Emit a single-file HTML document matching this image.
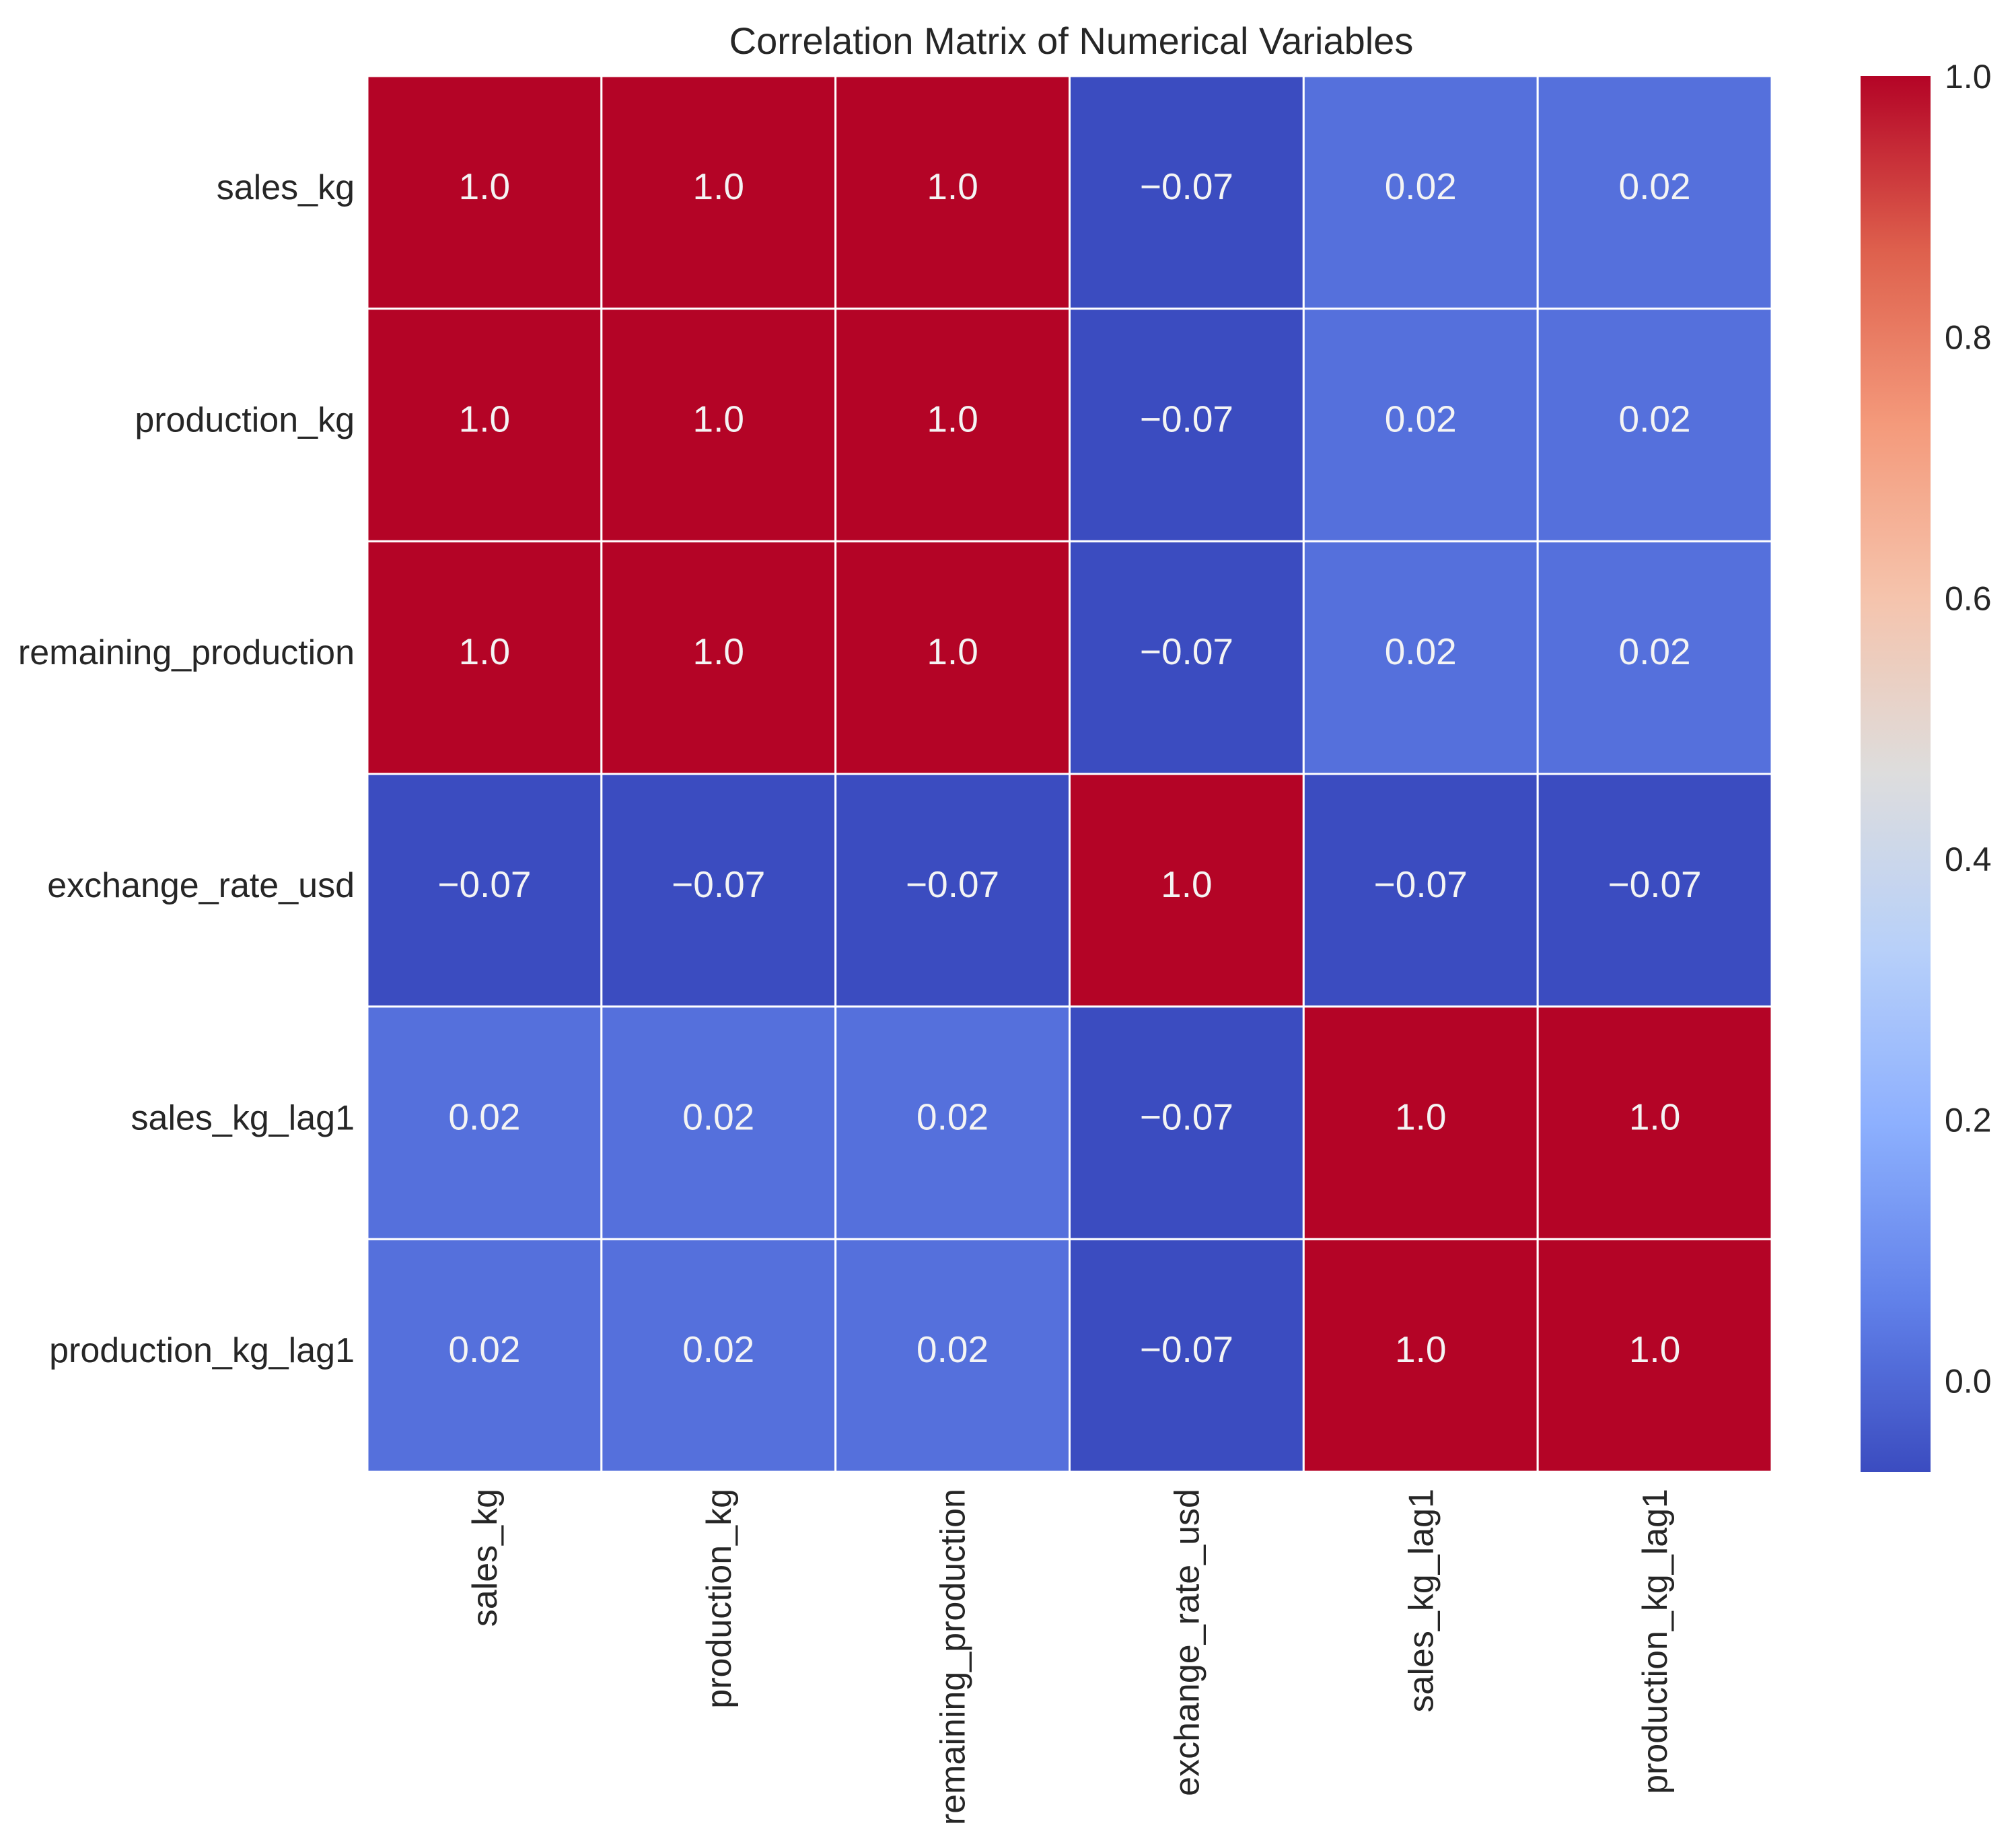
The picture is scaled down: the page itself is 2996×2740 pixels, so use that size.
<!DOCTYPE html>
<html><head><meta charset="utf-8"><style>
html,body{margin:0;padding:0;background:#fff;}
svg{display:block;font-family:"Liberation Sans",sans-serif;}
</style></head><body>
<svg id="chart" width="2996" height="2740" viewBox="0 0 2996 2740" xmlns="http://www.w3.org/2000/svg">
<defs>
<linearGradient id="cbgrad" x1="0" y1="1" x2="0" y2="0"></linearGradient>
</defs>
<text x="1592" y="80" font-size="56" fill="#262626" text-anchor="middle">Correlation Matrix of Numerical Variables</text>
<g id="cells"></g>
<g id="ylabels"></g>
<g id="xlabels"></g>
<g id="colorbar"></g>
</svg>
<script>
const variables = ["sales_kg","production_kg","remaining_production","exchange_rate_usd","sales_kg_lag1","production_kg_lag1"];
const row0 = [1.0, 1.0, 1.0, -0.07, 0.02, 0.02];
const row1 = [1.0, 1.0, 1.0, -0.07, 0.02, 0.02];
const row2 = [1.0, 1.0, 1.0, -0.07, 0.02, 0.02];
const row3 = [-0.07, -0.07, -0.07, 1.0, -0.07, -0.07];
const row4 = [0.02, 0.02, 0.02, -0.07, 1.0, 1.0];
const row5 = [0.02, 0.02, 0.02, -0.07, 1.0, 1.0];
const matrix = [row0,row1,row2,row3,row4,row5];
const colorbarTicks = [0.0, 0.2, 0.4, 0.6, 0.8, 1.0];
const vmin = -0.07, vmax = 1.0;

const NS = "http://www.w3.org/2000/svg";
const L = 546, R = 2633, T = 113, B = 2187;
const n = variables.length;
const cw = (R - L) / n, ch = (B - T) / n;
const xPos = i => L + i * cw;
const yPos = i => T + i * ch;
const stops = [[59,76,192],[98,130,234],[141,176,254],[184,208,249],[221,221,221],[245,196,173],[244,154,123],[222,96,77],[180,4,38]];
function cmap(v){
  let t = (v - vmin) / (vmax - vmin); t = Math.max(0, Math.min(1, t));
  const f = t * (stops.length - 1); const i = Math.min(Math.floor(f), stops.length - 2); const u = f - i;
  const c = stops[i].map((a, k) => Math.round(a + (stops[i+1][k] - a) * u));
  return `rgb(${c[0]},${c[1]},${c[2]})`;
}
function fmt(v){ const s = (Math.abs(v) >= 0.995) ? v.toFixed(1) : v.toFixed(2); return s.replace("-", "\u2212"); }
function mk(tag, attrs, parent){ const e = document.createElementNS(NS, tag); for (const k in attrs) e.setAttribute(k, attrs[k]); parent.appendChild(e); return e; }

const cells = document.getElementById("cells");
matrix.forEach((row, r) => {
  row.forEach((v, c) => {
    const rect = mk("rect", {x: xPos(c), y: yPos(r), width: cw, height: ch, fill: cmap(v), stroke: "#fff", "stroke-width": 3}, cells);
    
    
    const t = mk("text", {x: xPos(c) + cw / 2, y: yPos(r) + ch / 2 + 10, "font-size": 55, fill: "#f4f4f4", "text-anchor": "middle"}, cells);
    t.textContent = fmt(v);
    
    
  });
});
const yl = document.getElementById("ylabels");
variables.forEach((name, i) => {
  const t = mk("text", {x: 527, y: yPos(i) + ch / 2 + 10, "font-size": 52, fill: "#262626", "text-anchor": "end"}, yl);
  t.textContent = name;
  
  
});
const xl = document.getElementById("xlabels");
variables.forEach((name, i) => {
  const cx = xPos(i) + cw / 2 + 18, cy = 2212;
  const t = mk("text", {x: cx, y: cy, "font-size": 52, fill: "#262626", "text-anchor": "end", transform: `rotate(-90 ${cx} ${cy})`}, xl);
  t.textContent = name;
  
  
});
const grad = document.getElementById("cbgrad");
for (let i = 0; i <= 40; i++) {
  const v = vmin + (vmax - vmin) * i / 40;
  mk("stop", {offset: (i / 40), "stop-color": cmap(v)}, grad);
}
const cb = document.getElementById("colorbar");
const CL = 2765, CR = 2869, CT = 113, CB = 2187;
const cbY = v => CB - (v - vmin) / (vmax - vmin) * (CB - CT);
const bar = mk("rect", {x: CL, y: CT, width: CR - CL, height: CB - CT, fill: "url(#cbgrad)"}, cb);


colorbarTicks.forEach(v => {
  const t = mk("text", {x: 2890, y: cbY(v) + 18, "font-size": 50, fill: "#262626"}, cb);
  t.textContent = v.toFixed(1);
  
  
});
</script>
</body></html>
